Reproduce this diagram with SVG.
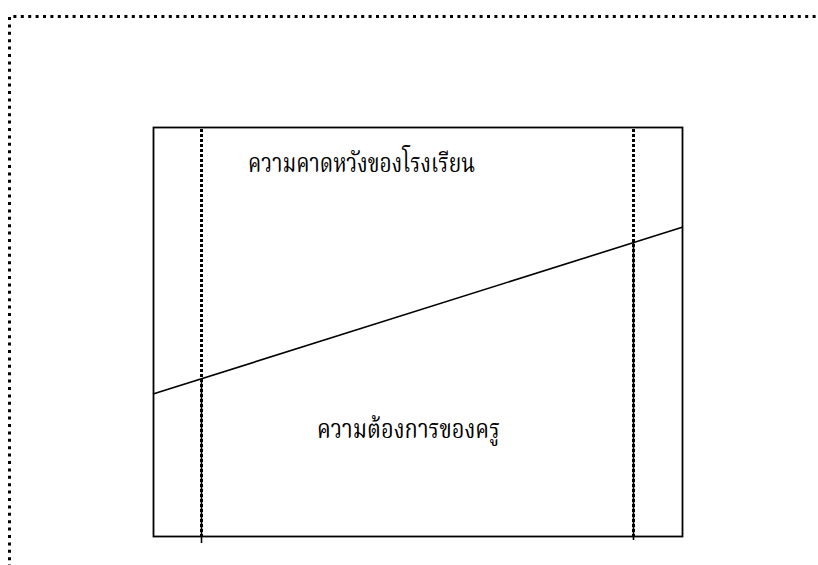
<svg xmlns="http://www.w3.org/2000/svg" width="818" height="565" viewBox="0 0 818 565">
<style>
.outer{fill:none;stroke:#000;stroke-width:3;stroke-dasharray:3 4.4}
.box{fill:none;stroke:#000;stroke-width:1.8}
.dot{fill:none;stroke:#000;stroke-width:3;stroke-dasharray:3 2}
.thin{fill:none;stroke:#000;stroke-width:1.6}
.lbl{font-family:"Liberation Serif","Noto Serif Thai","Noto Sans Thai","DejaVu Sans",serif;font-size:26px;fill:#000}
</style>
<rect width="818" height="565" fill="#fff"/>
<g id="frame"><path class="outer" d="M9.5,575 V16.5 H830"/></g>
<g id="box"><rect class="box" x="153.5" y="127.5" width="529" height="409"/></g>
<g id="connectors">
<line class="thin" x1="153" y1="394" x2="683" y2="227"/>
<line class="dot" x1="201.5" y1="129" x2="201.5" y2="537"/>
<line class="dot" x1="633.5" y1="129" x2="633.5" y2="537"/>
<line class="thin" x1="201.5" y1="379" x2="201.5" y2="543"/>
<line class="thin" x1="633.5" y1="243" x2="633.5" y2="540"/>
</g>
<g id="top-label"><text class="lbl" x="248" y="172" textLength="227" lengthAdjust="spacingAndGlyphs">ความคาดหวังของโรงเรียน</text></g>
<g id="bottom-label"><text class="lbl" x="317" y="438" textLength="183" lengthAdjust="spacingAndGlyphs">ความต้องการของครู</text></g>
</svg>
